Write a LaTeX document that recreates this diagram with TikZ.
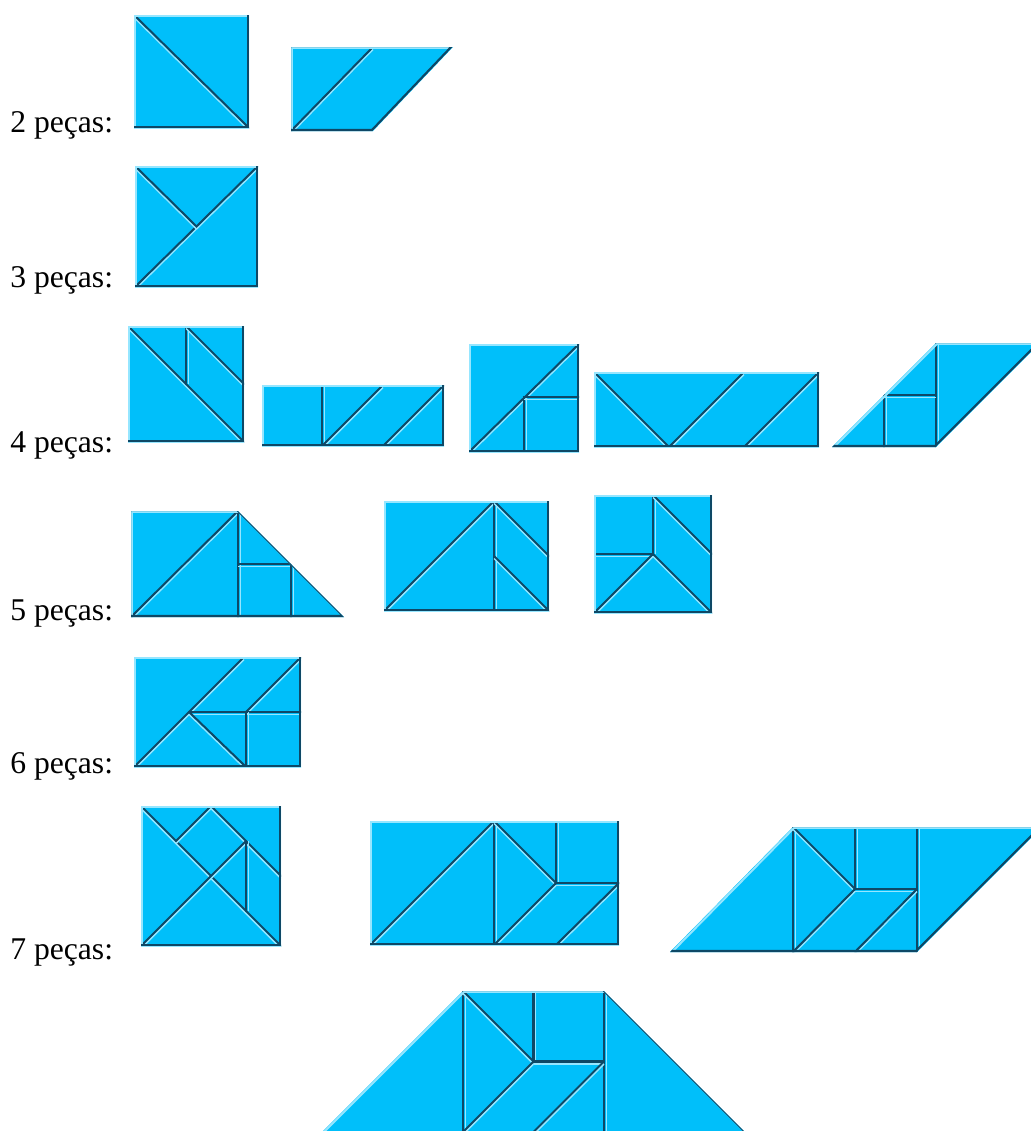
\documentclass[tikz,border=0pt]{standalone}
\usepackage{fontspec}
\setmainfont{Liberation Serif}
\definecolor{sky}{RGB}{0,191,250}
\definecolor{rim}{RGB}{14,72,102}
\definecolor{shine}{RGB}{150,230,255}

% a groove between two pieces: dark cut with a light edge below it
\newcommand{\groove}[2]{\draw[seam] #1 -- #2; \draw[glint,shift={(0,2.6)}] #1 -- #2;}
\newcommand{\vgroove}[2]{\draw[seam] #1 -- #2; \draw[glint,shift={(2.2,0)}] #1 -- #2;}
% a whole figure: outline, then its grooves, then the bevelled rim
\newcommand{\tile}[2]{%
  \fill[sky] #1 -- cycle;
  \begin{scope}
    \clip #1 -- cycle;
    #2
    \draw[rimlight,shift={(1,1)}] #1 -- cycle;
    \draw[rimdark,shift={(-1,-1)}] #1 -- cycle;
  \end{scope}}

\begin{document}
\begin{tikzpicture}[x=0.025cm,y=-0.025cm,
  seam/.style={draw=rim,line width=1.5pt,line cap=round},
  glint/.style={draw=shine,line width=0.9pt},
  rimlight/.style={draw=shine,line width=1.4pt},
  rimdark/.style={draw=rim,line width=1.5pt},
  lbl/.style={anchor=base west,inner sep=0pt,font=\fontsize{22.5}{27}\selectfont}]
  \useasboundingbox (0,0) rectangle (1031,1131);
  \clip (0,0) rectangle (1031,1131);

  % labels
  \node[lbl] (n2) at (10,132) {2 peças:};
  \node[lbl] (n3) at (10,287) {3 peças:};
  \node[lbl] (n4) at (10,452) {4 peças:};
  \node[lbl] (n5) at (10,620) {5 peças:};
  \node[lbl] (n6) at (10,773) {6 peças:};
  \node[lbl] (n7) at (10,959) {7 peças:};

  % 2 pieces
  \tile{(134,15) -- (249,15) -- (249,128) -- (134,128)}{
    \groove{(134,15)}{(249,128)}}
  \tile{(291,47) -- (453,47) -- (373,131) -- (291,131)}{
    \groove{(291,131)}{(373,47)}}

  % 3 pieces
  \tile{(135,166) -- (258,166) -- (258,287) -- (135,287)}{
    \groove{(135,287)}{(258,166)}
    \groove{(135,166)}{(196.5,226.5)}}

  % 4 pieces
  \tile{(128,326) -- (244,326) -- (244,442) -- (128,442)}{
    \groove{(128,326)}{(244,442)}
    \vgroove{(186,326)}{(186,384)}
    \groove{(186,326)}{(244,384)}}
  \tile{(262,385) -- (444,385) -- (444,446) -- (262,446)}{
    \vgroove{(322,385)}{(322,446)}
    \groove{(322,446)}{(383,385)}
    \groove{(383,446)}{(444,385)}}
  \tile{(469,344) -- (579,344) -- (579,452) -- (469,452)}{
    \groove{(469,452)}{(579,344)}
    \vgroove{(524,397)}{(524,452)}
    \groove{(524,397)}{(579,397)}}
  \tile{(594,372) -- (819,372) -- (819,447) -- (594,447)}{
    \groove{(594,372)}{(669,447)}
    \groove{(669,447)}{(744,372)}
    \groove{(744,447)}{(819,372)}}
  \tile{(832,447) -- (936,343) -- (1040,343) -- (936,447)}{
    \vgroove{(936,343)}{(936,447)}
    \vgroove{(884,395)}{(884,447)}
    \groove{(884,395)}{(936,395)}}

  % 5 pieces
  \tile{(131,511) -- (238,511) -- (344,617) -- (131,617)}{
    \groove{(131,617)}{(238,511)}
    \vgroove{(238,511)}{(238,617)}
    \groove{(238,564)}{(291,564)}
    \vgroove{(291,564)}{(291,617)}}
  \tile{(384,501) -- (549,501) -- (549,611) -- (384,611)}{
    \groove{(384,611)}{(494,501)}
    \vgroove{(494,501)}{(494,611)}
    \groove{(494,501)}{(549,556)}
    \groove{(494,556)}{(549,611)}}
  \tile{(594,495) -- (712,495) -- (712,613) -- (594,613)}{
    \vgroove{(653,495)}{(653,554)}
    \groove{(594,554)}{(653,554)}
    \groove{(653,495)}{(712,554)}
    \groove{(653,554)}{(594,613)}
    \groove{(653,554)}{(712,613)}}

  % 6 pieces
  \tile{(134,657) -- (301,657) -- (301,767) -- (134,767)}{
    \groove{(134,767)}{(244,657)}
    \groove{(246,712)}{(301,657)}
    \groove{(189,712)}{(301,712)}
    \groove{(189,712)}{(246,767)}
    \vgroove{(246,712)}{(246,767)}}

  % 7 pieces
  \tile{(141,806) -- (281,806) -- (281,946) -- (141,946)}{
    \groove{(141,806)}{(281,946)}
    \groove{(176,841)}{(211,806)}
    \groove{(211,806)}{(281,876)}
    \groove{(141,946)}{(246,841)}
    \vgroove{(246,841)}{(246,911)}}
  \tile{(370,821) -- (619,821) -- (619,945) -- (370,945)}{
    \groove{(370,945)}{(494,821)}
    \vgroove{(494,821)}{(494,945)}
    \groove{(494,821)}{(556,883)}
    \vgroove{(556,821)}{(556,883)}
    \groove{(556,883)}{(619,883)}
    \groove{(556,883)}{(494,945)}
    \groove{(619,883)}{(556,945)}}
  \tile{(670,952) -- (793,827) -- (1042,827) -- (917,952)}{
    \vgroove{(793,827)}{(793,952)}
    \vgroove{(917,827)}{(917,952)}
    \groove{(793,827)}{(855,889)}
    \vgroove{(855,827)}{(855,889)}
    \groove{(855,889)}{(917,889)}
    \groove{(855,889)}{(793,952)}
    \groove{(917,889)}{(855,952)}}
  \tile{(463,991) -- (604,991) -- (758,1145) -- (309,1145)}{
    \vgroove{(463,991)}{(463,1145)}
    \vgroove{(604,991)}{(604,1145)}
    \groove{(463,991)}{(533.5,1061.5)}
    \vgroove{(533.5,991)}{(533.5,1061.5)}
    \groove{(533.5,1061.5)}{(604,1061.5)}
    \groove{(533.5,1061.5)}{(463,1132)}
    \groove{(604,1061.5)}{(533.5,1132)}}
\end{tikzpicture}
\end{document}
